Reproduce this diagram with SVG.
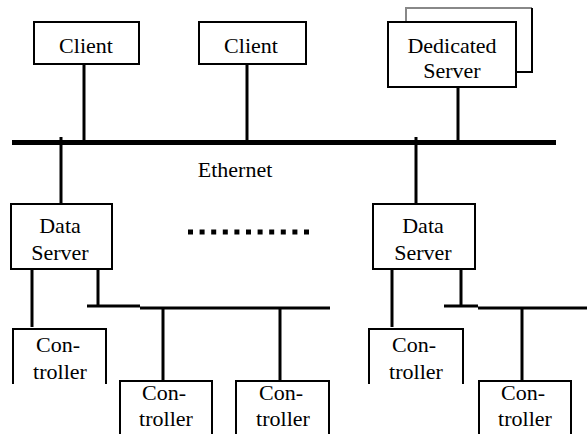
<svg xmlns="http://www.w3.org/2000/svg" width="587" height="434" viewBox="0 0 587 434">
  <style>
    .box { fill: #fff; stroke: #000; stroke-width: 2; }
    .open { fill: none; stroke: #000; stroke-width: 2; }
    .lbl { font-family: 'Liberation Serif', 'DejaVu Serif', 'Times New Roman', serif; font-size: 22px; fill: #000; text-anchor: middle; }
    .wire { stroke: #000; stroke-width: 3; fill: none; }
    .bus { stroke: #000; stroke-width: 5; fill: none; }
  </style>
  <rect width="587" height="434" fill="#fff"/>

  <!-- connectors -->
  <g id="connectors">
    <line class="bus" x1="12" y1="142.5" x2="556" y2="142.5"/>
    <line class="wire" x1="84" y1="64" x2="84" y2="140"/>
    <line class="wire" x1="247" y1="64" x2="247" y2="140"/>
    <line class="wire" x1="458" y1="88" x2="458" y2="140"/>
    <line class="wire" x1="61" y1="137" x2="61" y2="204"/>
    <line class="wire" x1="416" y1="137" x2="416" y2="204"/>
    <!-- left data server taps -->
    <line class="wire" x1="32" y1="269" x2="32" y2="327"/>
    <line class="wire" x1="98" y1="269" x2="98" y2="306"/>
    <line class="wire" x1="87" y1="306" x2="140" y2="306"/>
    <line class="wire" x1="140" y1="308" x2="330" y2="308"/>
    <line class="wire" x1="163" y1="308" x2="163" y2="381"/>
    <line class="wire" x1="280" y1="308" x2="280" y2="381"/>
    <!-- right data server taps -->
    <line class="wire" x1="392" y1="269" x2="392" y2="327"/>
    <line class="wire" x1="461" y1="269" x2="461" y2="306"/>
    <line class="wire" x1="444" y1="306" x2="478" y2="306"/>
    <line class="wire" x1="478" y1="308" x2="587" y2="308"/>
    <line class="wire" x1="522" y1="308" x2="522" y2="381"/>
    <!-- ellipsis between data servers -->
    <line x1="188" y1="232" x2="310" y2="232" stroke="#000" stroke-width="5" stroke-dasharray="5 6.6"/>
  </g>

  <g id="client1">
    <rect class="box" x="34" y="22" width="105" height="42"/>
    <text class="lbl" x="86" y="53" font-family="Liberation Serif, serif">Client</text>
  </g>
  <g id="client2">
    <rect class="box" x="199" y="22" width="107" height="42"/>
    <text class="lbl" x="251" y="53" font-family="Liberation Serif, serif">Client</text>
  </g>
  <g id="dedicated-server">
    <path d="M406 22 V8 H532" fill="none" stroke="#888" stroke-width="2"/>
    <path d="M532 8 V72 H516" fill="none" stroke="#000" stroke-width="2"/>
    <rect class="box" x="388" y="22" width="128" height="65"/>
    <text class="lbl" x="452" y="53">Dedicated</text>
    <text class="lbl" x="452" y="78">Server</text>
  </g>

  <text class="lbl" x="235" y="177">Ethernet</text>

  <g id="data-server-left">
    <rect class="box" x="11" y="204" width="101" height="65"/>
    <text class="lbl" x="60" y="233">Data</text>
    <text class="lbl" x="60" y="260">Server</text>
  </g>
  <g id="data-server-right">
    <rect class="box" x="373" y="204" width="102" height="65"/>
    <text class="lbl" x="423" y="233">Data</text>
    <text class="lbl" x="423" y="260">Server</text>
  </g>

  <g id="controller1">
    <path class="open" d="M13 384 V329 H106 V384"/>
    <text class="lbl" x="58" y="352">Con-</text>
    <text class="lbl" x="60" y="379">troller</text>
  </g>
  <g id="controller2">
    <path class="open" d="M120 434 V381 H212 V434"/>
    <text class="lbl" x="164" y="400">Con-</text>
    <text class="lbl" x="166" y="426">troller</text>
  </g>
  <g id="controller3">
    <path class="open" d="M236 434 V381 H329 V434"/>
    <text class="lbl" x="281" y="400">Con-</text>
    <text class="lbl" x="283" y="426">troller</text>
  </g>
  <g id="controller4">
    <path class="open" d="M369 384 V329 H463 V384"/>
    <text class="lbl" x="414" y="352">Con-</text>
    <text class="lbl" x="416" y="379">troller</text>
  </g>
  <g id="controller5">
    <path class="open" d="M479 434 V381 H571 V434"/>
    <text class="lbl" x="523" y="400">Con-</text>
    <text class="lbl" x="525" y="426">troller</text>
  </g>
</svg>
